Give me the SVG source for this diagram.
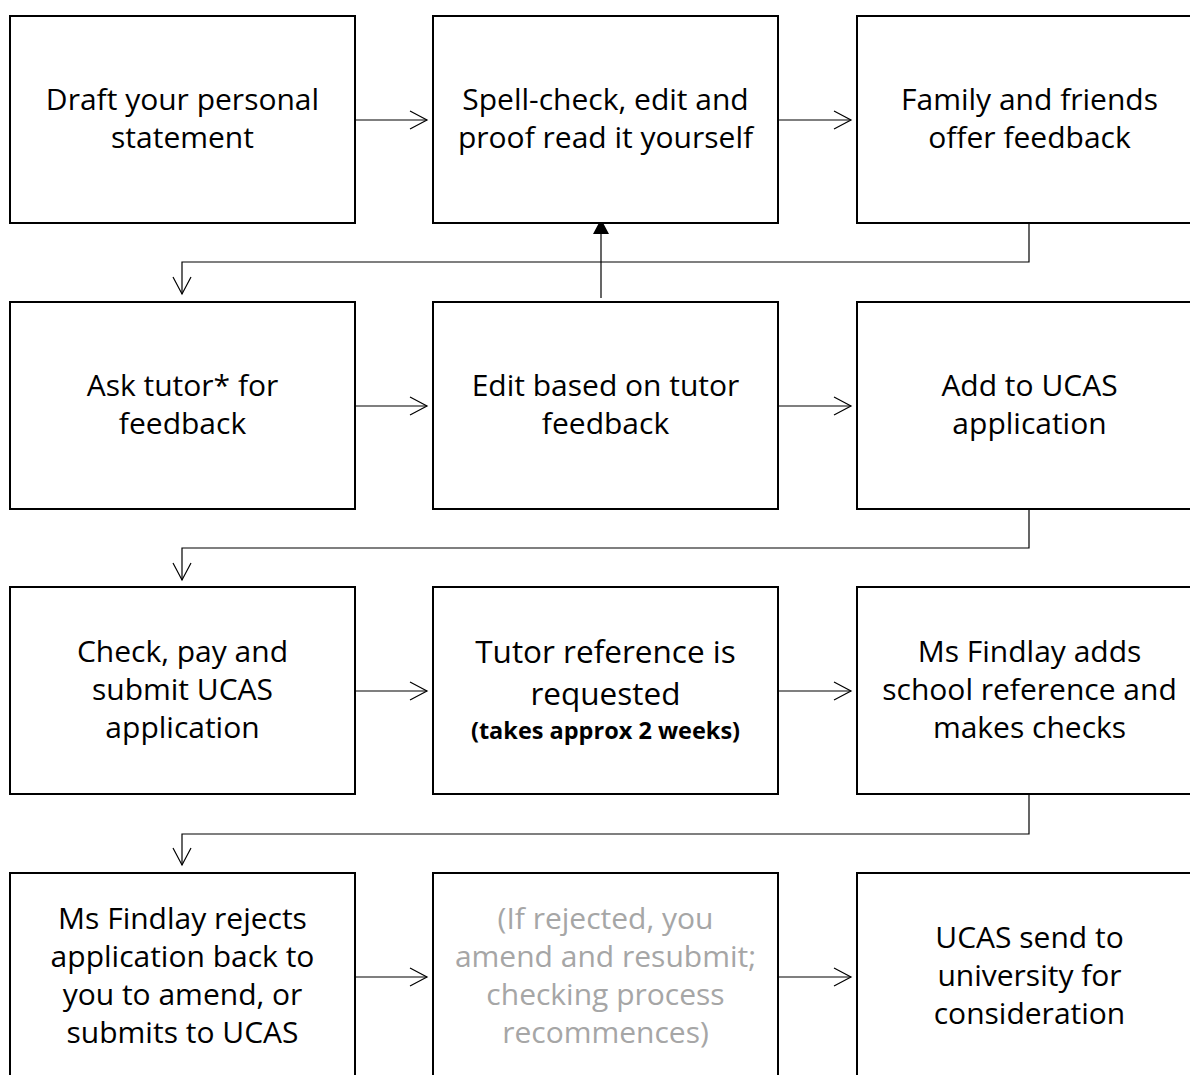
<svg xmlns="http://www.w3.org/2000/svg" width="1190" height="1075" viewBox="0 0 1190 1075">
<style>
.box{fill:#fff;stroke:#000;stroke-width:2}
.t{font-family:"Open Sans","Noto Sans",sans-serif;font-size:30px;fill:#000;text-anchor:middle}
.big{font-size:31.5px}
.b{font-family:"Open Sans","Noto Sans",sans-serif;font-size:23.5px;font-weight:bold;fill:#000;text-anchor:middle}
.g{fill:#a6a6a6}
.c{fill:none;stroke:#000;stroke-width:1.2}
</style>
<defs>
<marker id="open" viewBox="0 0 20 20" refX="18" refY="10" markerWidth="20" markerHeight="20" markerUnits="userSpaceOnUse" orient="auto">
<path d="M1,1 L18,10 L1,19" fill="none" stroke="#000" stroke-width="1.2"/>
</marker>
<marker id="fill" viewBox="0 0 16 16" refX="15" refY="8" markerWidth="16" markerHeight="16" markerUnits="userSpaceOnUse" orient="auto">
<path d="M0,0 L15,8 L0,16 Z" fill="#000"/>
</marker>
</defs>
<g id="connectors">
<line class="c" x1="356" y1="120" x2="427" y2="120" marker-end="url(#open)"/>
<line class="c" x1="779" y1="120" x2="851" y2="120" marker-end="url(#open)"/>
<path class="c" d="M1029,224 V262 H182 V294" marker-end="url(#open)"/>
<line class="c" x1="601" y1="298" x2="601" y2="219" marker-end="url(#fill)"/>
<line class="c" x1="356" y1="406" x2="427" y2="406" marker-end="url(#open)"/>
<line class="c" x1="779" y1="406" x2="851" y2="406" marker-end="url(#open)"/>
<path class="c" d="M1029,510 V548 H182 V580" marker-end="url(#open)"/>
<line class="c" x1="356" y1="691" x2="427" y2="691" marker-end="url(#open)"/>
<line class="c" x1="779" y1="691" x2="851" y2="691" marker-end="url(#open)"/>
<path class="c" d="M1029,795 V834 H182 V865" marker-end="url(#open)"/>
<line class="c" x1="356" y1="977" x2="427" y2="977" marker-end="url(#open)"/>
<line class="c" x1="779" y1="977" x2="851" y2="977" marker-end="url(#open)"/>
</g>
<g id="n1"><rect class="box" x="10" y="16" width="345" height="207"/>
<text class="t" x="182.5" y="110">Draft your personal</text><text class="t" x="182.5" y="148">statement</text></g>
<g id="n2"><rect class="box" x="433" y="16" width="345" height="207"/>
<text class="t" x="605.5" y="110">Spell-check, edit and</text><text class="t" x="605.5" y="148">proof read it yourself</text></g>
<g id="n3"><rect class="box" x="857" y="16" width="345" height="207"/>
<text class="t" x="1029.5" y="110">Family and friends</text><text class="t" x="1029.5" y="148">offer feedback</text></g>
<g id="n4"><rect class="box" x="10" y="302" width="345" height="207"/>
<text class="t" x="182.5" y="396">Ask tutor* for</text><text class="t" x="182.5" y="434">feedback</text></g>
<g id="n5"><rect class="box" x="433" y="302" width="345" height="207"/>
<text class="t" x="605.5" y="396">Edit based on tutor</text><text class="t" x="605.5" y="434">feedback</text></g>
<g id="n6"><rect class="box" x="857" y="302" width="345" height="207"/>
<text class="t" x="1029.5" y="396">Add to UCAS</text><text class="t" x="1029.5" y="434">application</text></g>
<g id="n7"><rect class="box" x="10" y="587" width="345" height="207"/>
<text class="t" x="182.5" y="662">Check, pay and</text><text class="t" x="182.5" y="700">submit UCAS</text><text class="t" x="182.5" y="738">application</text></g>
<g id="n8"><rect class="box" x="433" y="587" width="345" height="207"/>
<text class="t big" x="605.5" y="663">Tutor reference is</text><text class="t big" x="605.5" y="705">requested</text><text class="b" x="605.5" y="739">(takes approx 2 weeks)</text></g>
<g id="n9"><rect class="box" x="857" y="587" width="345" height="207"/>
<text class="t" x="1029.5" y="662">Ms Findlay adds</text><text class="t" x="1029.5" y="700">school reference and</text><text class="t" x="1029.5" y="738">makes checks</text></g>
<g id="n10"><rect class="box" x="10" y="873" width="345" height="207"/>
<text class="t" x="182.5" y="929">Ms Findlay rejects</text><text class="t" x="182.5" y="967">application back to</text><text class="t" x="182.5" y="1005">you to amend, or</text><text class="t" x="182.5" y="1043">submits to UCAS</text></g>
<g id="n11"><rect class="box" x="433" y="873" width="345" height="207"/>
<text class="t g" x="605.5" y="929">(If rejected, you</text><text class="t g" x="605.5" y="967">amend and resubmit;</text><text class="t g" x="605.5" y="1005">checking process</text><text class="t g" x="605.5" y="1043">recommences)</text></g>
<g id="n12"><rect class="box" x="857" y="873" width="345" height="207"/>
<text class="t" x="1029.5" y="948">UCAS send to</text><text class="t" x="1029.5" y="986">university for</text><text class="t" x="1029.5" y="1024">consideration</text></g>
</svg>
